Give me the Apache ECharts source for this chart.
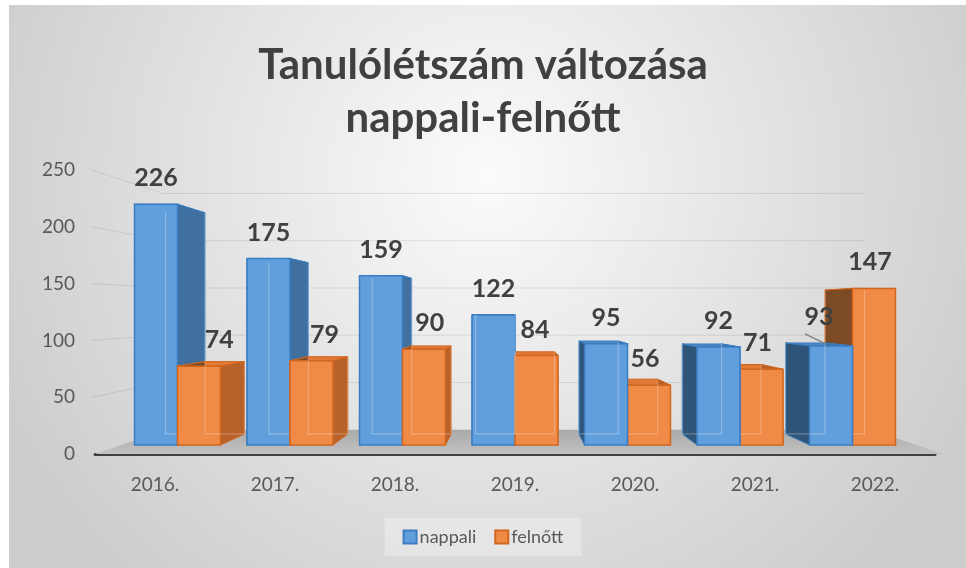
<!DOCTYPE html>
<html>
<head>
<meta charset="utf-8">
<script src="https://cdn.jsdelivr.net/npm/echarts@6/dist/echarts.min.js"></script>
<style>
  html, body { margin: 0; padding: 0; background: #fff; }
  #main { width: 966px; height: 568px; }
</style>
</head>
<body>
<div id="main"></div>
<script>
const categories = ['2016.', '2017.', '2018.', '2019.', '2020.', '2021.', '2022.'];
const nappali = [226, 175, 159, 122, 95, 92, 93];
const felnott = [74, 79, 90, 84, 56, 71, 147];
const yTicks = [0, 50, 100, 150, 200, 250];

// 3D look: everything leans toward a vanishing point (data coords)
const VANISH = [2.83, 127];
const D_FRONT = 0.0625, D_BACK = 0.139, D_WALL = 0.168;
const BAR_W = 0.382; // share of one category band
const FONT = 'Lato, "Open Sans", sans-serif';

const blue = { front: '#619fdc', edge: '#3a7dc2', top: '#4d86c0', right: '#40709f', left: '#2f5579', shine: 'rgba(255,255,255,0.28)' };
const orange = { front: '#f08b47', edge: '#d3661d', top: '#e07a35', right: '#b8622a', left: '#7c4a24', shine: 'rgba(255,255,255,0.25)' };

function toward(p, v, d) {
  return [p[0] + d * (v[0] - p[0]), p[1] + d * (v[1] - p[1])];
}

function poly(points, fill, z2, stroke) {
  return { type: 'polygon', shape: { points: points }, style: { fill: fill, stroke: stroke || null, lineWidth: 1 }, z2: z2, silent: true };
}

function makeBar(side, pal, others) {
  return function (params, api) {
    const idx = api.value(0), val = api.value(1);
    const top = api.coord([idx, val]), base = api.coord([idx, 0]);
    const w = api.size([1, 0])[0] * BAR_W;
    const x1 = side < 0 ? top[0] - w : top[0], x2 = x1 + w;
    const V = api.coord(VANISH);
    const f = (x, y) => toward([x, y], V, D_FRONT);
    const b = (x, y) => toward([x, y], V, D_BACK);
    const FTL = f(x1, top[1]), FTR = f(x2, top[1]), FBL = f(x1, base[1]), FBR = f(x2, base[1]);
    const BTL = b(x1, top[1]), BTR = b(x2, top[1]), BBL = b(x1, base[1]), BBR = b(x2, base[1]);
    const cx = (x1 + x2) / 2;
    const z = Math.round((2000 - Math.abs(cx - V[0])) * 10);

    const children = [
      poly([FTL, FTR, BTR, BTL], pal.top, z, pal.edge),
      poly([FTL, FBL, BBL, BTL], pal.left, z + 1, pal.edge),
      poly([FTR, FBR, BBR, BTR], pal.right, z + 1, pal.edge),
      {
        type: 'polygon', silent: true, z2: z + 3,
        shape: { points: [FTL, FTR, FBR, FBL] },
        style: { fill: pal.front, stroke: pal.edge, lineWidth: 1.5 }
      },
      {
        type: 'polyline', silent: true, z2: z + 4,
        shape: { points: [BTL, BBL, BBR, BTR] },
        style: { fill: null, stroke: pal.shine, lineWidth: 1.2 }
      }
    ];

    // data label
    let lx = (FTL[0] + FTR[0]) / 2;
    let ly = FTL[1] - 26;
    if (side > 0) {
      lx += Math.max(-4, 0.06 * (V[0] - cx));
    }
    if (side < 0 && others[idx] > val && cx > V[0]) {
      // pushed aside by the taller neighbour, with a leader line
      lx -= 12; ly -= 3;
      children.push({
        type: 'line', silent: true, z2: 99999,
        shape: { x1: lx - 14, y1: ly + 17, x2: FTL[0] + 16, y2: FTL[1] - 2 },
        style: { stroke: '#808080', lineWidth: 1.5 }
      });
    }
    children.push({
      type: 'text', silent: true, z2: 100000,
      style: {
        text: String(val), x: lx, y: ly, align: 'center', verticalAlign: 'middle',
        fill: '#404040', font: 'bold 25px ' + FONT
      }
    });
    return { type: 'group', children: children };
  };
}

function renderWalls(params, api) {
  const V = api.coord(VANISH);
  const left = params.coordSys.x, right = left + params.coordSys.width;
  const y0 = api.coord([0, 0])[1];
  const fl = [left, y0], fr = [right + 8, y0];
  const children = [
    poly([fl, fr, toward(fr, V, D_WALL), toward(fl, V, D_WALL)],
      new echarts.graphic.LinearGradient(0, 0, 0, 1, [
        { offset: 0, color: '#a9a9a9' }, { offset: 1, color: '#c2c2c2' }
      ]), 1)
  ];
  yTicks.forEach(function (t) {
    if (t === 0) return;
    const y = api.coord([0, t])[1];
    const p = [left - 3, y], q = [right, y];
    children.push({
      type: 'polyline', silent: true, z2: 2,
      shape: { points: [p, toward(p, V, D_WALL), toward(q, V, D_WALL)] },
      style: { fill: null, stroke: 'rgba(0,0,0,0.09)', lineWidth: 1 }
    });
  });
  return { type: 'group', children: children };
}

const chart = echarts.init(document.getElementById('main'));
chart.setOption({
  animation: false,
  graphic: [{
    type: 'rect', z: -100, silent: true,
    shape: { x: 9, y: 5, width: 957, height: 563 },
    style: {
      fill: new echarts.graphic.RadialGradient(0.5, 0.3, 0.95, [
        { offset: 0, color: '#fbfbfb' }, { offset: 0.5, color: '#e4e4e4' }, { offset: 1, color: '#cdcdcd' }
      ])
    }
  }],
  title: {
    text: 'Tanulólétszám változása\nnappali-felnőtt',
    left: 'center',
    top: 34,
    textStyle: { fontFamily: FONT, fontSize: 42, fontWeight: 'bold', color: '#404040', lineHeight: 53 }
  },
  legend: {
    data: ['nappali', 'felnőtt'],
    top: 518,
    left: 'center',
    icon: 'rect',
    itemWidth: 13, itemHeight: 13, itemGap: 18,
    padding: [10, 18],
    backgroundColor: 'rgba(255,255,255,0.3)',
    textStyle: { fontFamily: FONT, fontSize: 18, color: '#595959', padding: [0, 0, 0, -2] }
  },
  grid: { left: 95, right: 31, top: 170, bottom: 114 },
  xAxis: {
    type: 'category',
    data: categories,
    axisTick: { show: false },
    axisLine: { lineStyle: { color: '#404040', width: 3 } },
    axisLabel: { fontFamily: FONT, fontSize: 19, color: '#595959', margin: 21 },
    splitLine: { show: false }
  },
  yAxis: {
    type: 'value',
    min: 0, max: 250, interval: 50,
    axisLine: { show: false },
    axisTick: { show: false },
    splitLine: { show: false },
    axisLabel: { fontFamily: FONT, fontSize: 19, color: '#595959', margin: 20 }
  },
  series: [
    {
      name: 'walls', type: 'custom', silent: true, clip: false, z: 1,
      renderItem: renderWalls,
      data: [[0, 0]]
    },
    {
      name: 'nappali', type: 'custom', clip: false, z: 2,
      itemStyle: { color: blue.front, borderColor: blue.edge, borderWidth: 1.5 },
      renderItem: makeBar(-1, blue, felnott),
      data: nappali.map((v, i) => [i, v])
    },
    {
      name: 'felnőtt', type: 'custom', clip: false, z: 2,
      itemStyle: { color: orange.front, borderColor: orange.edge, borderWidth: 1.5 },
      renderItem: makeBar(1, orange, nappali),
      data: felnott.map((v, i) => [i, v])
    }
  ]
});
window.onresize = () => {
  chart.resize();
};
</script>
</body>
</html>
